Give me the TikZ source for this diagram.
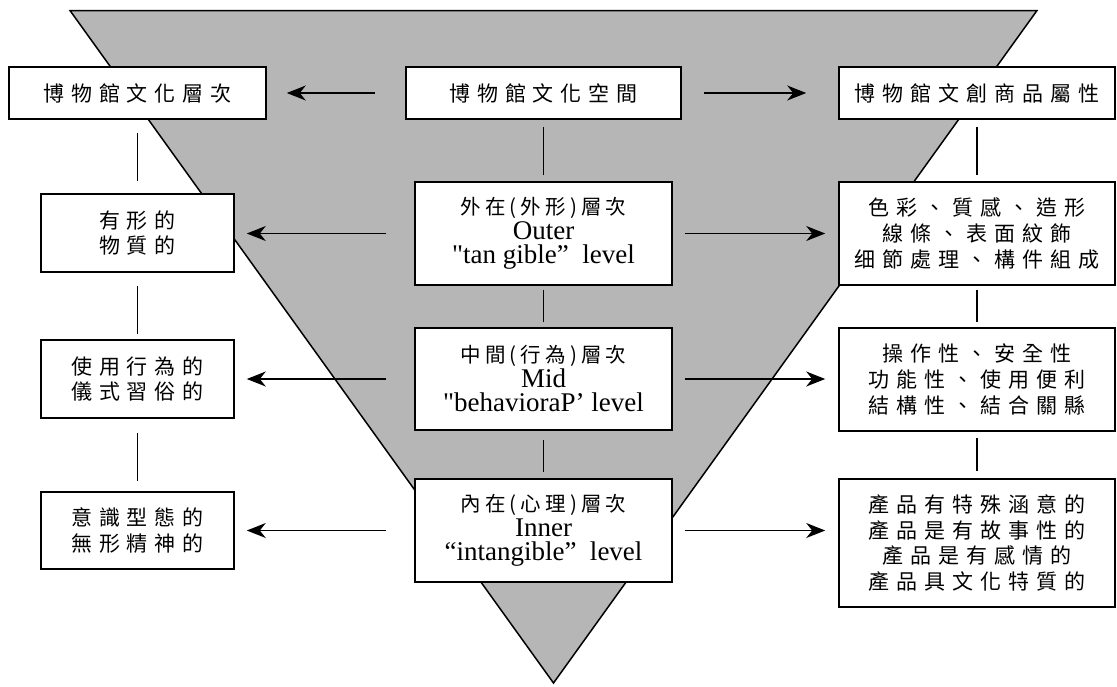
\documentclass[tikz,border=0pt]{standalone}
\usepackage{fontspec}
\setmainfont{Liberation Serif}
\newfontfamily\latinserif{Liberation Serif}
\newfontfamily\cjkwide[LetterSpace=33]{Noto Sans CJK TC}
\newfontfamily\cjknarrow[LetterSpace=20]{Noto Sans CJK TC}
\usetikzlibrary{arrows.meta}
\definecolor{funnel}{RGB}{181,182,181}
\newcommand{\levelhead}[1]{{\cjknarrow\fontsize{20.5}{24.5}\selectfont #1}}

\begin{document}
\lineskiplimit=-100pt
\begin{tikzpicture}[x=1pt,y=-1pt,
  box/.style={draw=black, fill=white, line width=1.6pt, inner sep=0pt, align=center},
  sidebox/.style={box, font=\cjkwide\fontsize{21}{25.6}\selectfont},
  midbox/.style={box, font=\latinserif\fontsize{27}{24.5}\selectfont,
                 minimum width=257pt, minimum height=103pt},
  link/.style={line width=1.6pt},
  arr/.style={line width=1.5pt, -{Stealth[length=19pt,width=15pt,inset=6pt]}}
]
\useasboundingbox (0,0) rectangle (1117,686);

% inverted funnel behind the boxes
\draw[fill=funnel, line width=1.5pt, line join=miter]
  (70,10.5) -- (1037,10.5) -- (553.5,683) -- cycle;

% top row
\node[sidebox, minimum width=257pt, minimum height=52pt] (TL) at (137.5,93) {博物館文化層次};
\node[sidebox, minimum width=275pt, minimum height=52pt] (TC) at (543.5,93) {博物館文化空間};
\node[sidebox, minimum width=276pt, minimum height=52pt] (TR) at (977,93) {博物館文創商品屬性};

% left column
\node[sidebox, minimum width=193pt, minimum height=78pt] (L2) at (137.5,233) {有形的\\物質的};
\node[sidebox, minimum width=193pt, minimum height=78pt] (L3) at (137.5,379) {使用行為的\\儀式習俗的};
\node[sidebox, minimum width=193pt, minimum height=77pt] (L4) at (137.5,530.5) {意識型態的\\無形精神的};

% centre column
\node[midbox] (C2) at (543.5,233.5)
  {\levelhead{外在(外形)層次}\\Outer\\"tan gible”\ \ level};
\node[midbox, minimum height=102pt] (C3) at (543.5,379)
  {\levelhead{中間(行為)層次}\\Mid\\"behavioraP’ level};
\node[midbox] (C4) at (543.5,530.5)
  {\levelhead{內在(心理)層次}\\Inner\\“intangible”\ \ level};

% right column
\node[sidebox, minimum width=276pt, minimum height=103pt] (R2) at (977,233.5)
  {色彩、質感、造形\\線條、表面紋飾\\细節處理、構件組成};
\node[sidebox, minimum width=276pt, minimum height=103pt] (R3) at (977,379.5)
  {操作性、安全性\\功能性、使用便利\\結構性、結合關縣};
\node[sidebox, minimum width=276pt, minimum height=128pt] (R4) at (977,543)
  {產品有特殊涵意的\\產品是有故事性的\\產品是有感情的\\產品具文化特質的};

% vertical links
\draw[link, shorten <=13pt, shorten >=12pt] (TL.south) -- (L2.north);
\draw[link, shorten <=13pt, shorten >=5pt]  (L2.south) -- (L3.north);
\draw[link, shorten <=14pt, shorten >=10pt] (L3.south) -- (L4.north);
\draw[link, shorten <=7pt, shorten >=6pt]   (TC.south) -- (C2.north);
\draw[link, shorten <=4pt, shorten >=5pt]   (C2.south) -- (C3.north);
\draw[link, shorten <=9pt, shorten >=6pt]   (C3.south) -- (C4.north);
\draw[link, shorten <=7pt, shorten >=6pt]   (TR.south) -- (R2.north);
\draw[link, shorten <=4pt, shorten >=5pt]   (R2.south) -- (R3.north);
\draw[link, shorten <=6pt, shorten >=7pt]   (R3.south) -- (R4.north);

% horizontal arrows
\draw[arr, shorten <=30pt, shorten >=20pt] (TC.west) -- (TL.east);
\draw[arr, shorten <=22pt, shorten >=32pt] (TC.east) -- (TR.west);
\draw[arr, shorten <=28pt, shorten >=12pt] (C2.west) -- (C2.west -| L2.east);
\draw[arr, shorten <=12pt, shorten >=13pt] (C2.east) -- (C2.east -| R2.west);
\draw[arr, shorten <=28pt, shorten >=12pt] (C3.west) -- (C3.west -| L3.east);
\draw[arr, shorten <=12pt, shorten >=13pt] (C3.east) -- (C3.east -| R3.west);
\draw[arr, shorten <=28pt, shorten >=12pt] (C4.west) -- (C4.west -| L4.east);
\draw[arr, shorten <=12pt, shorten >=13pt] (C4.east) -- (C4.east -| R4.west);
\end{tikzpicture}
\end{document}
